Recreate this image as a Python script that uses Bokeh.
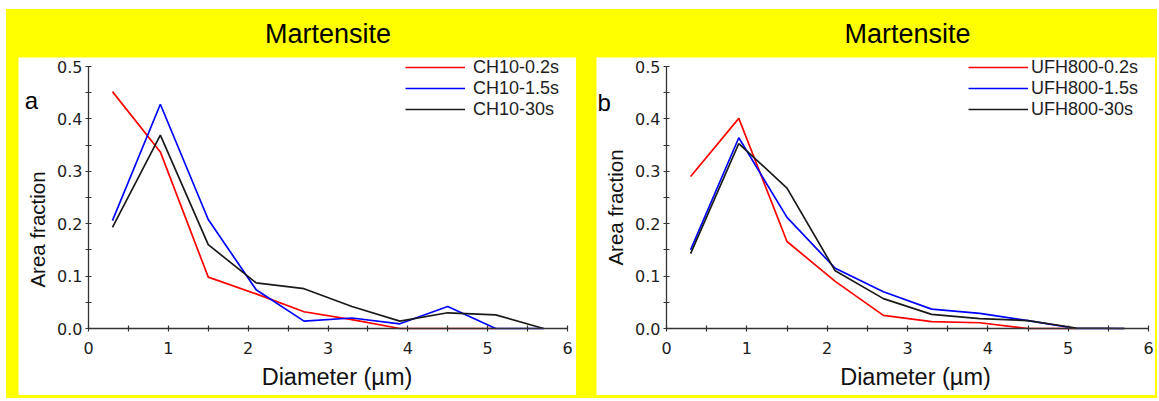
from bokeh.plotting import figure
from bokeh.layouts import row, column
from bokeh.models import Range1d, Legend, LegendItem, Label, FixedTicker, LinearAxis
from bokeh.embed import file_html
from bokeh.resources import INLINE
from bokeh.core.properties import value

# ---------------- data ----------------
diam = [0.3, 0.9, 1.5, 2.1, 2.7, 3.3, 3.9, 4.5, 5.1, 5.7]

ch10_02 = [0.452, 0.337, 0.098, 0.066, 0.032, 0.017, 0.000, 0.000, 0.000]
ch10_15 = [0.206, 0.428, 0.208, 0.074, 0.014, 0.020, 0.009, 0.042, 0.000, 0.000]
ch10_30 = [0.193, 0.369, 0.160, 0.087, 0.076, 0.042, 0.014, 0.030, 0.026, 0.000]

ufh_02 = [0.290, 0.401, 0.166, 0.090, 0.025, 0.013, 0.011, 0.000, 0.000]
ufh_15 = [0.150, 0.364, 0.212, 0.115, 0.070, 0.037, 0.029, 0.015, 0.000, 0.000]
ufh_30 = [0.143, 0.353, 0.268, 0.110, 0.057, 0.027, 0.019, 0.015, 0.001, 0.000]

names_a = ["CH10-0.2s", "CH10-1.5s", "CH10-30s"]
names_b = ["UFH800-0.2s", "UFH800-1.5s", "UFH800-30s"]
colors = ["#ff0000", "#0000ff", "#1a1a1a"]

titles = ["Martensite", "Martensite"]
panel_tags = ["a", "b"]
x_label = "Diameter (\u00b5m)"
y_label = "Area fraction"

x_ticks = [0, 1, 2, 3, 4, 5, 6]
x_minor = [0.5, 1.5, 2.5, 3.5, 4.5, 5.5]
y_ticks = [0.0, 0.1, 0.2, 0.3, 0.4, 0.5]
y_tick_labels = ["0.0", "0.1", "0.2", "0.3", "0.4", "0.5"]
y_minor = [0.05, 0.15, 0.25, 0.35, 0.45]

X_MAX = 6.0
Y_MAX = 0.5

YELLOW = "#ffff00"
AXC = "#333333"
TXT = "#1e1e1e"


def label_axis(text, size, standoff, bounds):
    """An axis that only carries a title (no line, no ticks)."""
    ax = LinearAxis(ticker=FixedTicker(ticks=[]), axis_label=text, fixed_location=0,
                    bounds=bounds, axis_line_color=None,
                    major_tick_line_color=None, minor_tick_line_color=None,
                    major_tick_out=0, minor_tick_out=0, major_tick_in=0, minor_tick_in=0,
                    axis_label_standoff=standoff,
                    axis_label_text_font="Liberation Sans",
                    axis_label_text_font_style="normal",
                    axis_label_text_font_size=size,
                    axis_label_text_color="#111111")
    return ax


def make_panel(series, names, tag, tag_x, tag_y, title, width, pads, leg_x, leg_standoff,
               xlab_bounds, ylab_bounds):
    h = 338
    pl, pr, pt, pb = pads
    # the frame covers the whole white area; axes sit at x = 0 and y = 0 inside it
    kx = X_MAX / (width - pl - pr)
    ky = Y_MAX / (h - pt - pb)
    xr = (-pl * kx, X_MAX + pr * kx)
    yr = (-pb * ky, Y_MAX + pt * ky)
    p = figure(width=width, height=h, output_backend="svg", toolbar_location=None,
               x_range=Range1d(*xr), y_range=Range1d(*yr),
               min_border=0, min_border_left=0, min_border_right=0,
               min_border_top=0, min_border_bottom=0,
               background_fill_color="white", border_fill_color="white")
    p.outline_line_color = None
    p.grid.visible = False

    xa = p.xaxis[0]
    xa.ticker = FixedTicker(ticks=x_ticks, minor_ticks=x_minor)
    xa.bounds = (0, X_MAX)
    xa.fixed_location = 0
    ya = p.yaxis[0]
    ya.ticker = FixedTicker(ticks=y_ticks, minor_ticks=y_minor)
    ya.major_label_overrides = {t: l for t, l in zip(y_ticks, y_tick_labels)}
    ya.bounds = (0, Y_MAX)
    ya.fixed_location = 0

    for ax in (xa, ya):
        ax.axis_line_color = AXC
        ax.axis_line_width = 1.3
        ax.major_tick_line_color = AXC
        ax.minor_tick_line_color = AXC
        ax.major_tick_line_width = 1.2
        ax.minor_tick_line_width = 1.2
        ax.major_tick_in = 3
        ax.major_tick_out = 3
        ax.minor_tick_in = 3
        ax.minor_tick_out = 3
        ax.major_label_text_font = "DejaVu Sans"
        ax.major_label_text_font_size = "16px"
        ax.major_label_text_color = TXT
    xa.major_label_standoff = 10
    ya.major_label_standoff = 3

    # axis titles, carried by title-only axes so they can sit off-centre like the original
    p.add_layout(label_axis(x_label, "23.5px", 35, xlab_bounds), "below")
    p.add_layout(label_axis(y_label, "20.5px", 40, ylab_bounds), "left")

    items = []
    for vals, name, c in zip(series, names, colors):
        r = p.line(diam[:len(vals)], vals, line_color=c, line_width=1.7)
        items.append(LegendItem(label=name, renderers=[r]))

    leg = Legend(items=items, location=(leg_x, 208.5 + pb), padding=0, margin=0, spacing=0,
                 glyph_width=60, glyph_height=20, label_height=20,
                 label_standoff=leg_standoff, border_line_color=None,
                 background_fill_alpha=0,
                 label_text_font="Liberation Sans", label_text_font_size="18px",
                 label_text_color=TXT)
    p.add_layout(leg, "center")

    p.add_layout(Label(x=tag_x, y=tag_y, text=tag, text_font="Liberation Sans",
                       text_font_size="24px", text_color="#000000",
                       text_baseline="alphabetic", text_align="left"))

    t = figure(width=width, height=48, output_backend="svg", toolbar_location=None,
               x_range=Range1d(*xr), y_range=Range1d(0, 1),
               x_axis_type=None, y_axis_type=None,
               min_border=0, min_border_left=0, min_border_right=0,
               min_border_top=0, min_border_bottom=0,
               background_fill_color=YELLOW, border_fill_color=YELLOW)
    t.outline_line_color = None
    t.grid.visible = False
    t.text(x=[X_MAX / 2], y=[0.5], text=[title], text_align="center", text_baseline="middle",
           text_font=value("Liberation Sans"), text_font_size="27px", text_color="#000000")
    return column(t, p)


left = make_panel([ch10_02, ch10_15, ch10_30], names_a, panel_tags[0], -0.8, 0.436, titles[0],
                  558, (70, 9, 9, 67), 387, 8, (0.22, X_MAX), (-0.122, Y_MAX))
right = make_panel([ufh_02, ufh_15, ufh_30], names_b, panel_tags[1], -0.86, 0.431, titles[1],
                   559, (70, 7, 9, 67), 372, 3, (0.2, X_MAX), (-0.038, Y_MAX))
left.margin = (0, 0, 3, 12)
right.margin = (0, 2, 3, 20)

root = row(left, right, styles={"background-color": YELLOW})
root.margin = (9, 0, 0, 6)

open("out.html", "w").write(file_html(root, INLINE))
